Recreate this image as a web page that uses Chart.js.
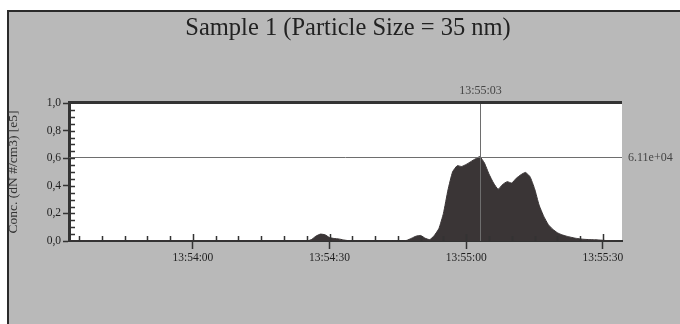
<!DOCTYPE html>
<html><head><meta charset="utf-8">
<script src="https://cdn.jsdelivr.net/npm/chart.js@4"></script>
<style>html,body{margin:0;padding:0;background:#fff;}canvas{display:block;}</style>
</head><body>
<canvas id="c" width="680" height="324"></canvas>
<script>
const chartTitle = 'Sample 1 (Particle Size = 35 nm)';
const yAxisTitle = 'Conc. (dN #/cm3) [e5]';
const referenceTime = '13:54:00';
const sampleTimes = [
 '13:53:33','13:54:25','13:54:26','13:54:27','13:54:28','13:54:29','13:54:30','13:54:31','13:54:32','13:54:33','13:54:34','13:54:35',
 '13:54:46','13:54:47','13:54:48','13:54:49','13:54:50','13:54:51','13:54:52','13:54:53','13:54:54','13:54:55','13:54:56','13:54:57',
 '13:54:58','13:54:59','13:55:00','13:55:01','13:55:02','13:55:03','13:55:04','13:55:05','13:55:06','13:55:07','13:55:08','13:55:09',
 '13:55:10','13:55:11','13:55:12','13:55:13','13:55:14','13:55:15','13:55:16','13:55:17','13:55:18','13:55:19','13:55:20','13:55:21',
 '13:55:22','13:55:23','13:55:24','13:55:25','13:55:26','13:55:27','13:55:28','13:55:29','13:55:30','13:55:31','13:55:32','13:55:33'
];
const concentration = [
 0,0,0.01,0.035,0.05,0.045,0.025,0.018,0.015,0.008,0.003,0,
 0,0.005,0.02,0.035,0.04,0.02,0.01,0.04,0.09,0.2,0.37,0.5,
 0.545,0.54,0.555,0.575,0.595,0.611,0.565,0.485,0.42,0.375,0.41,0.43,
 0.42,0.455,0.48,0.497,0.466,0.38,0.26,0.18,0.12,0.085,0.06,0.045,
 0.035,0.027,0.02,0.015,0.012,0.01,0.009,0.008,0.005,0.003,0.002,0
];
const xTickLabels = ['13:54:00','13:54:30','13:55:00','13:55:30'];
const yTickLabels = ['0,0','0,2','0,4','0,6','0,8','1,0'];
const xRange = ['13:53:32.8','13:55:34.2'];
const cursorTime = '13:55:03';
const cursorValue = 0.611;
const cursorLabel = '6.11e+04';

function toSec(s){
  const p = s.split(':').map(Number);
  const r = referenceTime.split(':').map(Number);
  return (p[0]-r[0])*3600 + (p[1]-r[1])*60 + (p[2]-r[2]);
}
const points = sampleTimes.map((t,i)=>({x:toSec(t), y:concentration[i]}));
const SERIF = '"Liberation Serif", "DejaVu Serif", serif';

const decor = {
  id:'decor',
  beforeDraw(chart){
    const ctx = chart.ctx, ca = chart.chartArea;
    ctx.save();
    ctx.fillStyle = '#ffffff';
    ctx.fillRect(0,0,chart.width,chart.height);
    ctx.fillStyle = '#b9b9b9';
    ctx.fillRect(7,10,chart.width-7,chart.height-10);
    ctx.strokeStyle = '#2b2b2b';
    ctx.lineWidth = 2;
    ctx.beginPath();
    ctx.moveTo(8,chart.height); ctx.lineTo(8,11); ctx.lineTo(chart.width,11);
    ctx.stroke();
    ctx.fillStyle = '#ffffff';
    ctx.fillRect(ca.left, ca.top, ca.right-ca.left, ca.bottom-ca.top);
    // title
    ctx.fillStyle = '#222';
    ctx.font = '24.5px ' + SERIF;
    ctx.textAlign = 'center';
    ctx.textBaseline = 'middle';
    ctx.fillText(chartTitle, 348, 29);
    ctx.restore();
  },
  afterDatasetsDraw(chart){
    const ctx = chart.ctx, ca = chart.chartArea;
    const xs = chart.scales.x, ys = chart.scales.y;
    ctx.save();
    // cursor lines
    ctx.strokeStyle = '#6e6e6e';
    ctx.lineWidth = 1;
    const cx = Math.round(xs.getPixelForValue(toSec(cursorTime)))+0.5;
    const cy = Math.round(ys.getPixelForValue(cursorValue))+0.5;
    ctx.beginPath();
    ctx.moveTo(cx, ca.top); ctx.lineTo(cx, ca.bottom);
    ctx.moveTo(ca.left, cy); ctx.lineTo(ca.right, cy);
    ctx.stroke();
    // minor ticks
    ctx.strokeStyle = '#333';
    ctx.lineWidth = 1.5;
    ctx.beginPath();
    for (let v = 0.05; v < 1; v += 0.05){
      const py = Math.round(ys.getPixelForValue(v))+0.5;
      ctx.moveTo(ca.left, py); ctx.lineTo(ca.left+6, py);
    }
    for (let s = -25; s <= 90; s += 5){
      const px = Math.round(xs.getPixelForValue(s))+0.5;
      ctx.moveTo(px, ca.bottom); ctx.lineTo(px, ca.bottom-(s%30===0?7:5));
    }
    ctx.stroke();
    // plot top border
    ctx.strokeStyle = '#333';
    ctx.lineWidth = 3;
    ctx.beginPath();
    ctx.moveTo(ca.left-1, ca.top-0.5); ctx.lineTo(ca.right, ca.top-0.5);
    ctx.stroke();
    // cursor labels
    ctx.fillStyle = '#444';
    ctx.font = '12px ' + SERIF;
    ctx.textBaseline = 'middle';
    ctx.textAlign = 'center';
    ctx.fillText(cursorTime, cx, ca.top-12);
    ctx.textAlign = 'left';
    ctx.fillText(cursorLabel, ca.right+6, cy);
    ctx.restore();
  }
};

new Chart(document.getElementById('c'), {
  type:'line',
  data:{datasets:[{
    data: points,
    fill:'origin',
    backgroundColor:'#3a3536',
    borderColor:'#3a3536',
    borderWidth:1,
    pointRadius:0,
    tension:0.15
  }]},
  options:{
    responsive:false,
    animation:false,
    devicePixelRatio:1,
    layout:{padding:{left:2, top:103, right:58, bottom:58}},
    plugins:{legend:{display:false}, tooltip:{enabled:false}, title:{display:false}},
    scales:{
      x:{
        type:'linear',
        min: toSec(xRange[0]), max: toSec(xRange[1]),
        afterFit(s){ s.height = 25; },
        grid:{drawOnChartArea:false, drawTicks:true, tickLength:8, tickWidth:1.5, tickColor:'#333'},
        border:{color:'#333', width:2},
        ticks:{
          stepSize:30, includeBounds:false, autoSkip:false, maxRotation:0, padding:2,
          color:'#1e1e1e', font:{family:SERIF, size:11.5},
          callback(v){
            const i = xTickLabels.findIndex(l => Math.abs(toSec(l)-v) < 0.01);
            return i >= 0 ? xTickLabels[i] : '';
          }
        }
      },
      y:{
        min:0, max:1,
        afterFit(s){ s.width = 67; },
        grid:{drawOnChartArea:false, drawTicks:true, tickLength:6, tickWidth:1.5, tickColor:'#333'},
        border:{color:'#333', width:3},
        title:{display:true, text:yAxisTitle, color:'#333', font:{family:SERIF, size:13.5}, padding:{top:3,bottom:3}},
        ticks:{
          stepSize:0.2, padding:2, color:'#1e1e1e', font:{family:SERIF, size:11.5},
          callback(v, i){ return yTickLabels[i]; }
        }
      }
    }
  },
  plugins:[decor]
});
</script>
</body></html>
